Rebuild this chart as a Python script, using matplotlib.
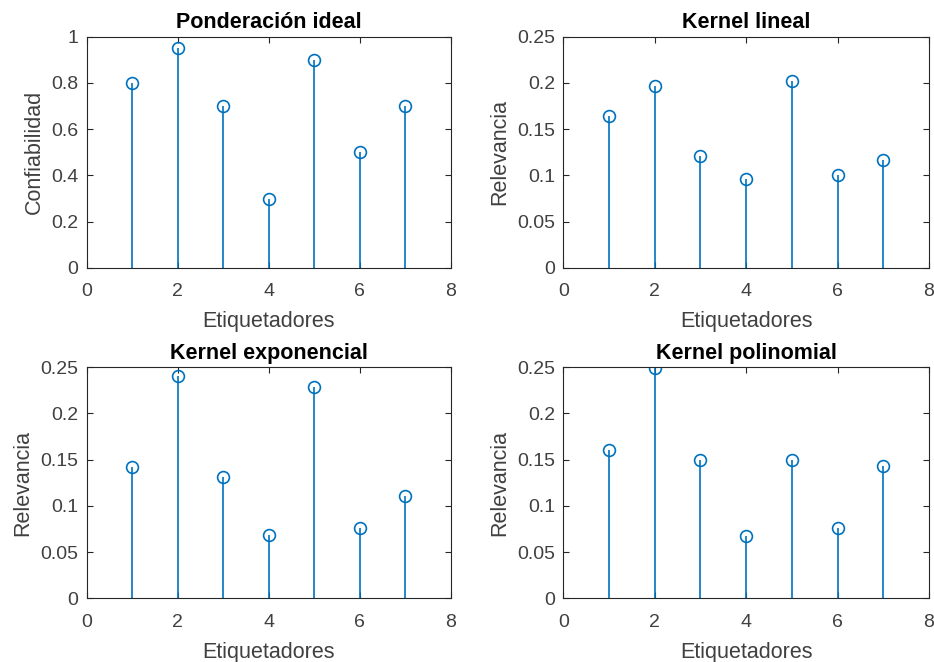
import numpy as np
import matplotlib.pyplot as plt
from matplotlib.ticker import FormatStrFormatter

# etiquetadores 1..7
etiquetadores = [1, 2, 3, 4, 5, 6, 7]

# valores
confiabilidad = [0.8, 0.95, 0.7, 0.3, 0.9, 0.5, 0.7]
kernel_lineal = [0.164, 0.197, 0.121, 0.096, 0.202, 0.100, 0.117]
kernel_exponencial = [0.142, 0.241, 0.131, 0.069, 0.229, 0.076, 0.111]
kernel_polinomial = [0.161, 0.249, 0.150, 0.067, 0.150, 0.076, 0.143]

titulos = ['Ponderación ideal', 'Kernel lineal', 'Kernel exponencial', 'Kernel polinomial']
ylabels = ['Confiabilidad', 'Relevancia', 'Relevancia', 'Relevancia']
series = [confiabilidad, kernel_lineal, kernel_exponencial, kernel_polinomial]
ylims = [1.0, 0.25, 0.25, 0.25]
ysteps = [0.2, 0.05, 0.05, 0.05]

azul = '#0072BD'
gris = '#262626'
gris_txt = '#404040'

plt.rcParams['font.family'] = ['Liberation Sans', 'DejaVu Sans']

fig = plt.figure(figsize=(9.34, 6.62), dpi=100)

# posiciones de los ejes (estilo subplot de MATLAB)
posiciones = [
    [0.0931, 0.5952, 0.3894, 0.3494],
    [0.6031, 0.5952, 0.3915, 0.3494],
    [0.0931, 0.0962, 0.3894, 0.3490],
    [0.6031, 0.0962, 0.3915, 0.3490],
]

for pos, tit, yl, s, ymax, paso in zip(posiciones, titulos, ylabels, series, ylims, ysteps):
    ax = fig.add_axes(pos)
    markerline, stemlines, baseline = ax.stem(etiquetadores, s, basefmt=' ')
    plt.setp(stemlines, color=azul, linewidth=1.2)
    plt.setp(markerline, marker='o', markersize=8.5, markerfacecolor='none',
             markeredgecolor=azul, markeredgewidth=1.2)
    baseline.set_visible(False)

    ax.set_xlim(0, 8)
    ax.set_ylim(0, ymax)
    ax.set_xticks(np.arange(0, 9, 2))
    ax.set_yticks(np.arange(0, ymax + paso / 2, paso))
    ax.yaxis.set_major_formatter(FormatStrFormatter('%g'))

    ax.tick_params(direction='in', top=True, right=True, length=4,
                   labelsize=14, color=gris, labelcolor=gris_txt, width=0.8)
    ax.tick_params(axis='x', pad=11)
    ax.tick_params(axis='y', pad=6)
    for sp in ax.spines.values():
        sp.set_color(gris)
        sp.set_linewidth(0.8)

    ax.set_title(tit, fontsize=15.5, fontweight='bold', color='black', pad=6)
    ax.set_xlabel('Etiquetadores', fontsize=15.5, color=gris_txt, labelpad=8)
    ax.set_ylabel(yl, fontsize=15.5, color=gris_txt, labelpad=5)

fig.savefig('out.png', dpi=100)
